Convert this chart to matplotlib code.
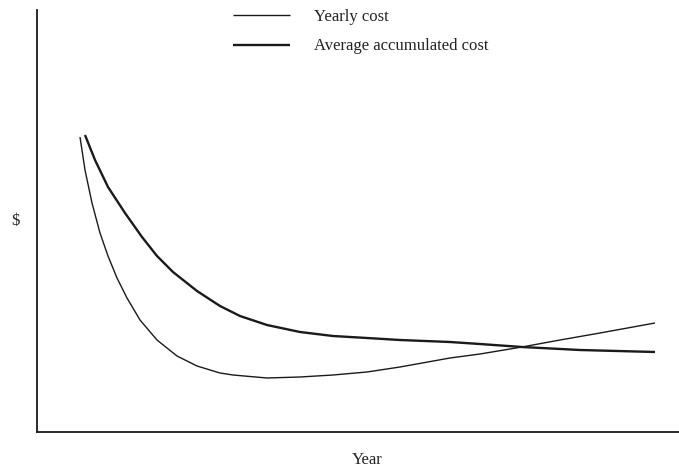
import matplotlib
matplotlib.use("Agg")
import matplotlib.pyplot as plt

plt.rcParams['font.family'] = ['Liberation Serif', 'DejaVu Serif']

# x in abstract year units, y in $ units (higher = more cost)
yearly_x = [43, 48, 55, 63, 71, 80, 90, 103, 120, 140, 160, 183, 196, 230, 263, 296, 330, 363, 413, 443, 485, 523, 563, 618]
yearly_y = [295, 262, 229, 199, 176, 154, 134, 112, 92, 76, 66, 59, 57, 54, 55, 57, 60, 65, 74, 78, 85, 92, 99, 109]

avg_x = [48, 58, 71, 88, 105, 120, 136, 160, 183, 203, 230, 263, 296, 330, 363, 413, 443, 485, 543, 618]
avg_y = [297, 272, 245, 219, 195, 176, 160, 141, 126, 116, 107, 100, 96, 94, 92, 90, 88, 85, 82, 80]

series_labels = ["Yearly cost", "Average accumulated cost"]
x_label = "Year"
y_label = r"\$"

fig = plt.figure(figsize=(6.79, 4.70), dpi=100)
ax = fig.add_axes([37/679, 38/470, 642/679, 422/470])
ax.set_xlim(0, 642)
ax.set_ylim(0, 422)

l1, = ax.plot(yearly_x, yearly_y, color='#1a1a1a', lw=1.0, solid_capstyle='butt', solid_joinstyle='round')
l2, = ax.plot(avg_x, avg_y, color='#1a1a1a', lw=1.7, solid_capstyle='butt', solid_joinstyle='round')

for s in ['top', 'right']:
    ax.spines[s].set_visible(False)
for s in ['left', 'bottom']:
    ax.spines[s].set_linewidth(1.3)
    ax.spines[s].set_color('#1a1a1a')
ax.set_xticks([])
ax.set_yticks([])

leg = fig.legend([l1, l2], series_labels, loc='upper left',
                 bbox_to_anchor=(224/679, 1.0), frameon=False,
                 fontsize=12, handlelength=3.4, handletextpad=1.45,
                 labelspacing=0.8, borderpad=0.05)
for t in leg.get_texts():
    t.set_color('#222222')

fig.text(15/679, 1 - 221/470, y_label, fontsize=12, ha='center', va='center', color='#222222')
fig.text(367/679, 1 - 460/470, x_label, fontsize=12, ha='center', va='center', color='#222222')

fig.savefig("out.png", dpi=100)
